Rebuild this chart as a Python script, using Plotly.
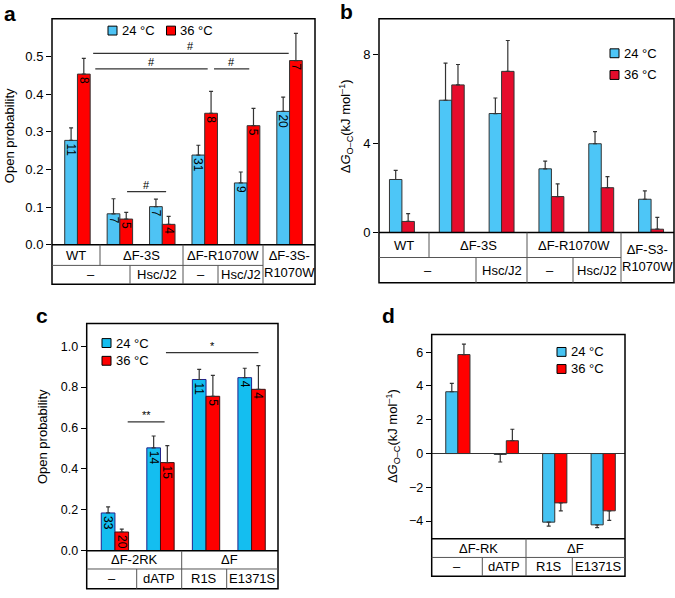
import plotly.graph_objects as go

W, H = 675, 598
FONT = "Liberation Sans, Arial, Helvetica, sans-serif"

# ---------------- data ----------------
# Panel a: open probability
a_groups = ["WT –", "ΔF-3S –", "ΔF-3S Hsc/J2", "ΔF-R1070W –", "ΔF-R1070W Hsc/J2", "ΔF-3S-R1070W"]
a_24 = [0.277, 0.082, 0.101, 0.238, 0.164, 0.354]
a_24_err = [0.033, 0.040, 0.020, 0.026, 0.029, 0.038]
a_36 = [0.453, 0.068, 0.054, 0.349, 0.316, 0.489]
a_36_err = [0.042, 0.018, 0.021, 0.058, 0.046, 0.072]
a_n24 = ["11", "7", "7", "31", "9", "20"]
a_n36 = ["8", "5", "4", "8", "5", "7"]
a_row1 = ["WT", "ΔF-3S", "ΔF-R1070W", "ΔF-3S-<br>R1070W"]
a_row2 = ["–", "Hsc/J2", "–", "Hsc/J2"]

# Panel b: ΔG O-C
b_groups = a_groups
b_24 = [2.39, 5.96, 5.36, 2.87, 4.00, 1.50]
b_24_err = [0.41, 1.67, 0.70, 0.35, 0.55, 0.38]
b_36 = [0.50, 6.65, 7.26, 1.62, 2.02, 0.15]
b_36_err = [0.35, 0.92, 1.39, 0.57, 0.50, 0.53]
b_row1 = ["WT", "ΔF-3S", "ΔF-R1070W", "ΔF-S3-<br>R1070W"]
b_row2 = ["–", "Hsc/J2", "–", "Hsc/J2"]

# Panel c: open probability
c_groups = ["ΔF-2RK –", "ΔF-2RK dATP", "ΔF R1S", "ΔF E1371S"]
c_24 = [0.185, 0.503, 0.837, 0.846]
c_24_err = [0.030, 0.058, 0.049, 0.046]
c_36 = [0.092, 0.431, 0.755, 0.789]
c_36_err = [0.014, 0.083, 0.102, 0.116]
c_n24 = ["33", "14", "11", "4"]
c_n36 = ["20", "15", "5", "4"]
c_row1 = ["ΔF-2RK", "ΔF"]
c_row2 = ["–", "dATP", "R1S", "E1371S"]

# Panel d: ΔG O-C
d_groups = ["ΔF-RK –", "ΔF-RK dATP", "ΔF R1S", "ΔF E1371S"]
d_24 = [3.66, -0.05, -4.06, -4.22]
d_24_err = [0.49, 0.45, 0.24, 0.16]
d_36 = [5.86, 0.76, -2.92, -3.39]
d_36_err = [0.62, 0.68, 0.47, 0.56]
d_row1 = ["ΔF-RK", "ΔF"]
d_row2 = ["–", "dATP", "R1S", "E1371S"]

series_names = ["24 °C", "36 °C"]


def X(px):
    return px / W


def Y(py):
    return 1 - py / H


fig = go.Figure()
shapes = []
annots = []


def txt(x, y, t, size=13, xanchor="center", yanchor="middle", **kw):
    d = dict(xref="paper", yref="paper", x=x, y=y, text=t, showarrow=False,
             xanchor=xanchor, yanchor=yanchor, font=dict(family=FONT, size=size, color="black"))
    d.update(kw)
    annots.append(d)


def add_pair(ax, vals24, err24, vals36, err36, n24, n36, w, c24, c36, line24, line36):
    xs = list(range(len(vals24)))
    for vals, err, n, col, lc, off, name in [
        (vals24, err24, n24, c24, line24, -w, series_names[0]),
        (vals36, err36, n36, c36, line36, 0.0, series_names[1]),
    ]:
        plus = [e if v >= 0 else 0 for v, e in zip(vals, err)]
        minus = [e if v < 0 else 0 for v, e in zip(vals, err)]
        kw = {}
        if n:
            kw = dict(text=n, textposition="inside", insidetextanchor="end", textangle=90,
                      constraintext="none", textfont=dict(family=FONT, size=12, color="black"))
        fig.add_trace(go.Bar(
            x=xs, y=vals, width=w, offset=off, name=name,
            xaxis="x" + ax, yaxis="y" + ax, showlegend=False,
            marker=dict(color=col, line=dict(color=lc, width=1)),
            error_y=dict(type="data", symmetric=False, array=plus, arrayminus=minus,
                         color="#333333", thickness=1.2, width=2),
            **kw
        ))


def table(x0, x1, y0, ymid, y1, row1_cells, span_cell, row2_cells, size=13):
    shapes.append(dict(type="line", xref="paper", yref="paper", x0=X(x0), x1=X(x1), y0=Y(y0), y1=Y(y0),
                       line=dict(color="black", width=1.5)))
    mid_end = span_cell[0] if span_cell else x1
    shapes.append(dict(type="line", xref="paper", yref="paper", x0=X(x0), x1=X(mid_end), y0=Y(ymid), y1=Y(ymid),
                       line=dict(color="#555555", width=1)))
    for (a, b, t) in row1_cells:
        if b < x1:
            bottom = y1 if (span_cell and b == span_cell[0]) else ymid
            shapes.append(dict(type="line", xref="paper", yref="paper", x0=X(b), x1=X(b), y0=Y(y0), y1=Y(bottom),
                               line=dict(color="#555555", width=1)))
        txt(X((a + b) / 2), Y((y0 + ymid) / 2), t, size)
    if span_cell:
        a, b, t = span_cell
        txt(X((a + b) / 2), Y((y0 + y1) / 2), t, size)
    for (a, b, t) in row2_cells:
        if b < mid_end:
            shapes.append(dict(type="line", xref="paper", yref="paper", x0=X(b), x1=X(b), y0=Y(ymid), y1=Y(y1),
                               line=dict(color="#555555", width=1)))
        txt(X((a + b) / 2), Y((ymid + y1) / 2), t, size)


def frame(x0, x1, top, bottom):
    shapes.append(dict(type="rect", xref="paper", yref="paper", x0=X(x0), x1=X(x1), y0=Y(bottom), y1=Y(top),
                       line=dict(color="black", width=1.5)))


def legend(xs, ys, colors, size=13):
    for xx, yy, col, name in zip(xs, ys, colors, series_names):
        shapes.append(dict(type="rect", xref="paper", yref="paper", x0=X(xx - 4.5), x1=X(xx + 4.5),
                           y0=Y(yy + 4.5), y1=Y(yy - 4.5), fillcolor=col, line=dict(color="black", width=1)))
        txt(X(xx + 7), Y(yy), name, size, xanchor="left")


def sig(ax, xa, xb, yv, t, size=11):
    shapes.append(dict(type="line", xref="x" + ax, yref="y" + ax, x0=xa, x1=xb, y0=yv, y1=yv,
                       line=dict(color="#333333", width=1.2)))
    annots.append(dict(xref="x" + ax, yref="y" + ax, x=(xa + xb) / 2, y=yv, text=t, yanchor="bottom",
                       xanchor="center", showarrow=False, yshift=-1,
                       font=dict(family=FONT, size=size, color="black")))


def panel_label(px, py, t):
    txt(X(px), Y(py), "<b>" + t + "</b>", 21)


def ytitle(px, py, t, size=13):
    txt(X(px), Y(py), t, size, textangle=-90)


# ---------------- panel a ----------------
add_pair("", a_24, a_24_err, a_36, a_36_err, a_n24, a_n36, 0.3,
         "#4EC3F4", "#FF0000", "#333333", "#333333")
frame(52, 315, 19, 288)
table(52, 315, 248, 269, 288,
      [(52, 100, a_row1[0]), (100, 183, a_row1[1]), (183, 263, a_row1[2])],
      (263, 315, a_row1[3]),
      [(52, 130, a_row2[0]), (130, 183, a_row2[1]), (183, 218, a_row2[2]), (218, 263, a_row2[3])])
legend([112.5, 171], [31, 31], ["#4EC3F4", "#FF0000"])
sig("", 0.37, 4.98, 0.508, "#")
sig("", 0.42, 3.07, 0.467, "#")
sig("", 3.22, 4.05, 0.467, "#")
sig("", 1.17, 2.09, 0.141, "#")
panel_label(10, 14, "a")
ytitle(9, 138, "Open probability")

# ---------------- panel b ----------------
add_pair("2", b_24, b_24_err, b_36, b_36_err, None, None, 0.25,
         "#4DC6F7", "#E60C2C", "#333333", "#333333")
frame(379, 674, 19, 286.7)
table(379, 674, 235.7, 261, 286.7,
      [(379, 429, b_row1[0]), (429, 527, b_row1[1]), (527, 621, b_row1[2])],
      (621, 674, b_row1[3]),
      [(379, 476, b_row2[0]), (476, 527, b_row2[1]), (527, 573, b_row2[2]), (573, 621, b_row2[3])])
legend([614.5, 614.5], [54, 76], ["#4DC6F7", "#E60C2C"])
panel_label(346, 12, "b")
ytitle(346, 128, "Δ<i>G</i><sub>O–C</sub>(kJ mol<sup>–1</sup>)")

# ---------------- panel c ----------------
add_pair("3", c_24, c_24_err, c_36, c_36_err, c_n24, c_n36, 0.3,
         "#14BEF0", "#FF0000", "#22228A", "#3A1010")
frame(86.7, 278, 328, 596.7)
table(86.7, 278, 558.3, 576.7, 596.7,
      [(86.7, 181.7, c_row1[0]), (181.7, 278, c_row1[1])],
      None,
      [(86.7, 136.7, c_row2[0]), (136.7, 181.7, c_row2[1]), (181.7, 226.7, c_row2[2]), (226.7, 278, c_row2[3])])
legend([106.5, 106.5], [347.7, 365.7], ["#14BEF0", "#FF0000"])
sig("3", 0.28, 1.09, 0.63, "**")
sig("3", 1.12, 3.15, 0.968, "*")
panel_label(42, 320, "c")
ytitle(42, 443, "Open probability")

# ---------------- panel d ----------------
add_pair("4", d_24, d_24_err, d_36, d_36_err, None, None, 0.25,
         "#46C3F2", "#FF0000", "#333333", "#333333")
frame(431.7, 625, 339, 584)
table(431.7, 625, 546, 565, 584,
      [(431.7, 526, d_row1[0]), (526, 625, d_row1[1])],
      None,
      [(431.7, 482.3, d_row2[0]), (482.3, 526, d_row2[1]), (526, 572.3, d_row2[2]), (572.3, 625, d_row2[3])])
legend([561.5, 561.5], [356.7, 374], ["#46C3F2", "#FF0000"])
panel_label(388, 320, "d")
ytitle(393, 442, "Δ<i>G</i><sub>O–C</sub>(kJ mol<sup>–1</sup>)")

# ---------------- axes ----------------
tickfont = dict(family=FONT, size=13, color="black")
common_x = dict(showticklabels=False, ticks="", showgrid=False, zeroline=False, showline=False, fixedrange=True)
common_y = dict(ticks="outside", ticklen=5, tickcolor="black", tickwidth=1, showgrid=False,
                showline=False, tickfont=tickfont)

fig.update_layout(
    width=W, height=H, margin=dict(l=0, r=0, t=0, b=0, pad=0),
    paper_bgcolor="white", plot_bgcolor="white", barmode="overlay",
    font=dict(family=FONT, color="black"),
    xaxis=dict(domain=[X(52), X(315)], range=[-0.6, 5.6], anchor="y", **common_x),
    yaxis=dict(domain=[Y(248), Y(19)], range=[0, 0.6], anchor="x", tickvals=[0, 0.1, 0.2, 0.3, 0.4, 0.5],
               tickformat=".1f", zeroline=False, **common_y),
    xaxis2=dict(domain=[X(379), X(674)], range=[-0.46, 5.46], anchor="y2", **common_x),
    yaxis2=dict(domain=[Y(235.7), Y(19)], range=[0, 9.63], anchor="x2", tickvals=[0, 4, 8],
                zeroline=False, **common_y),
    xaxis3=dict(domain=[X(86.7), X(278)], range=[-0.62, 3.58], anchor="y3", **common_x),
    yaxis3=dict(domain=[Y(558.3), Y(328)], range=[0, 1.11], anchor="x3",
                tickvals=[0, 0.2, 0.4, 0.6, 0.8, 1.0], tickformat=".1f", zeroline=False,
                **{**common_y, "tickfont": dict(family=FONT, size=12.5, color="black")}),
    xaxis4=dict(domain=[X(431.7), X(625)], range=[-0.54, 3.45], anchor="y4", **common_x),
    yaxis4=dict(domain=[Y(546), Y(339)], range=[-5.04, 7.05], anchor="x4",
                tickvals=[-4, -2, 0, 2, 4, 6], zeroline=True, zerolinecolor="#333333", zerolinewidth=1.2,
                **{**common_y, "tickfont": dict(family=FONT, size=12.5, color="black")}),
    shapes=shapes, annotations=annots,
)

fig.write_html(
    "out.html",
    config={"displayModeBar": False},
    post_script="document.body.style.margin='0';document.body.style.padding='0';"
                "document.body.style.overflow='hidden';",
)
